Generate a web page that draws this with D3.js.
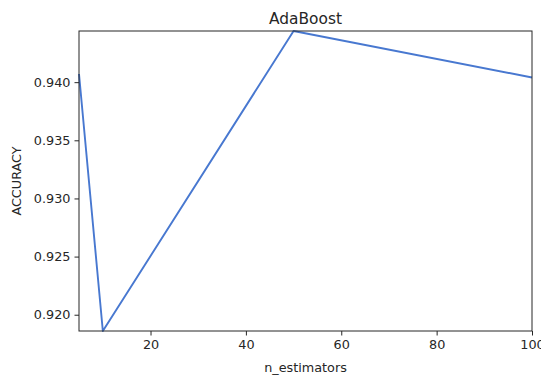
<!DOCTYPE html>
<html>
<head>
<meta charset="utf-8">
<script src="https://cdn.jsdelivr.net/npm/d3@7"></script>
<style>
  body { margin: 0; background: #fff; }
  text { font-family: "DejaVu Sans", sans-serif; fill: #262626; }
</style>
</head>
<body>
<div id="chart"></div>
<script>
var nEstimators = [5, 10, 50, 100];
var accuracy = [0.9407, 0.9186, 0.9444, 0.9404];
var xTicks = [20, 40, 60, 80, 100];
var yTicks = [0.920, 0.925, 0.930, 0.935, 0.940];

var width = 541,
height = 381,
margin = {top: 31, right: 9, bottom: 50, left: 79};

var xScale = d3.scaleLinear().
domain([5, 100]).
range([margin.left, width - margin.right]);

var yScale = d3.scaleLinear().
domain(d3.extent(accuracy)).
range([height - margin.bottom, margin.top]);

const svg = d3.select('#chart').
append('svg').
attr('width', width).
attr('height', height);

// line
var line = d3.line().
x((d, i) => xScale(nEstimators[i])).
y(d => yScale(d));

svg.append('path').
datum(accuracy).
attr('d', line).
attr('fill', 'none').
attr('stroke', '#4878d0').
attr('stroke-width', 1.9).
attr('stroke-linejoin', 'round');

// axes
const xAxis = d3.axisBottom(xScale).
tickValues(xTicks).
tickSize(4.5).
tickPadding(4).
tickSizeOuter(0);

const yAxis = d3.axisLeft(yScale).
tickValues(yTicks).
tickFormat(d3.format('.3f')).
tickSize(4.5).
tickPadding(4).
tickSizeOuter(0);

svg.append('g').
attr('transform', 'translate(0,' + (height - margin.bottom) + ')').
call(xAxis);

svg.append('g').
attr('transform', 'translate(' + margin.left + ',0)').
call(yAxis);

svg.selectAll('.tick text').
style('font-size', '12.8px').
style('font-family', '"DejaVu Sans", sans-serif').
attr('fill', '#262626');
svg.selectAll('.tick line').attr('stroke', '#262626').attr('stroke-width', 1);
svg.selectAll('.domain').remove();

// frame
svg.append('rect').
attr('x', margin.left).
attr('y', margin.top).
attr('width', width - margin.right - margin.left).
attr('height', height - margin.bottom - margin.top).
attr('fill', 'none').
attr('stroke', '#262626').
attr('stroke-width', 1);

// title and labels
var cx = (margin.left + width - margin.right) / 2;

svg.append('text').
attr('x', cx).
attr('y', 24).
attr('text-anchor', 'middle').
style('font-size', '15.4px').
text('AdaBoost');

svg.append('text').
attr('x', cx).
attr('y', 372).
attr('text-anchor', 'middle').
style('font-size', '12.8px').
text('n_estimators');

svg.append('text').
attr('transform', 'translate(21,' + ((margin.top + height - margin.bottom) / 2) + ') rotate(-90)').
attr('text-anchor', 'middle').
style('font-size', '12.8px').
text('ACCURACY');
</script>
</body>
</html>
